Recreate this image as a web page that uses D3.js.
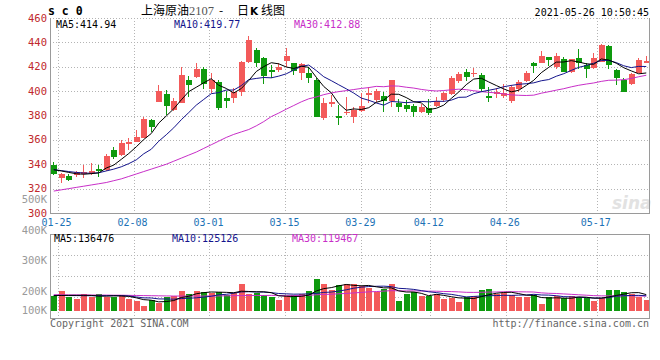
<!DOCTYPE html>
<html><head><meta charset="utf-8">
<script src="https://cdn.jsdelivr.net/npm/d3@7/dist/d3.min.js"></script>
<style>body{margin:0;background:#fff}svg{display:block}</style>
</head><body><svg id="c" width="660" height="360"></svg>
<script>
const dates = ["01-22","01-25","01-26","01-27","01-28","01-29","02-01","02-02","02-03","02-04","02-05",
"02-08","02-09","02-10","02-18","02-19","02-22","02-23","02-24","02-25","02-26",
"03-01","03-02","03-03","03-04","03-05","03-08","03-09","03-10","03-11","03-12",
"03-15","03-16","03-17","03-18","03-19","03-22","03-23","03-24","03-25","03-26",
"03-29","03-30","03-31","04-01","04-02","04-06","04-07","04-08","04-09",
"04-12","04-13","04-14","04-15","04-16","04-19","04-20","04-21","04-22","04-23",
"04-26","04-27","04-28","04-29","04-30","05-06","05-07","05-10","05-11","05-12","05-13","05-14",
"05-17","05-18","05-19","05-20","05-21","05-24","05-25","05-26"];
const open = [339.4,328.5,330.4,331.2,332.0,332.6,336.0,335.3,351.7,347.6,356.6,358.0,361.8,376.3,391.3,397.6,384.5,390.5,409.1,411.8,418.1,401.7,407.7,394.1,394.6,399.5,424.1,433.7,426.9,417.3,417.3,424.9,422.8,415.1,414.6,409.1,377.7,389.4,379.6,381.8,379.0,383.9,396.8,392.7,396.0,391.9,390.5,388.6,387.8,383.1,385.9,387.8,392.7,397.6,408.5,415.9,414.0,413.2,396.0,397.6,396.0,392.1,401.5,408.5,422.8,423.3,428.2,419.5,426.1,415.9,426.9,421.4,418.7,424.1,437.0,417.3,409.1,405.8,414.6,423.3];
const high = [342.0,333.0,332.0,334.7,339.4,341.0,339.4,348.4,353.9,359.9,361.3,368.0,378.5,376.9,405.0,401.0,394.0,419.5,412.4,422.8,419.5,414.6,409.1,400.1,402.8,424.9,445.2,435.1,427.7,421.4,422.8,435.1,422.8,423.3,419.5,411.0,394.1,396.8,388.6,395.4,386.7,398.2,403.1,401.5,399.5,409.1,393.3,392.7,389.4,389.4,393.3,395.4,399.5,412.4,415.9,417.9,418.7,415.1,403.1,402.3,405.8,405.0,409.1,416.7,424.1,433.1,428.2,431.0,428.2,426.1,434.3,422.8,431.0,438.6,437.5,417.9,410.5,414.6,426.9,428.8];
const low = [331.2,324.4,326.3,329.8,328.5,331.0,329.3,334.7,344.0,346.8,351.7,358.0,361.3,366.7,391.0,380.4,383.9,390.0,395.4,410.5,401.5,398.2,384.5,385.9,390.0,396.2,422.8,420.0,405.6,410.5,416.0,419.5,413.2,409.1,406.4,378.5,376.3,387.2,372.2,380.4,374.0,383.1,390.0,391.3,383.1,387.2,383.1,383.1,379.0,382.3,380.4,386.7,391.3,396.8,406.9,408.5,411.3,399.5,391.3,394.1,394.1,390.5,399.5,407.7,415.1,423.3,420.6,417.9,415.9,415.1,417.9,410.5,417.9,424.1,417.9,405.0,399.5,405.0,414.6,422.8];
const close = [332.0,332.0,327.0,333.9,334.0,334.5,335.0,347.0,346.2,357.2,358.5,362.6,376.9,370.8,400.0,387.8,392.1,413.2,405.0,418.1,405.8,409.1,385.9,392.1,399.5,424.1,441.9,422.8,412.4,415.4,419.5,428.8,416.7,422.2,410.5,379.0,390.5,391.3,377.7,383.1,384.5,387.8,398.7,400.1,391.9,409.1,387.2,385.3,383.1,387.2,381.8,392.1,398.2,410.5,414.0,411.8,415.1,401.5,394.9,399.5,398.2,403.1,407.7,415.1,420.6,428.8,425.5,428.8,415.9,426.1,423.3,417.9,426.9,437.8,421.4,410.5,399.5,414.0,425.5,424.9];
const ma5 = [335.5,334.5,333.3,332.2,331.8,332.3,332.9,336.9,339.3,344.0,348.8,354.3,360.3,365.2,373.8,379.6,385.5,392.8,399.6,403.2,406.8,410.2,404.8,402.2,398.5,402.1,408.7,416.1,420.1,423.3,422.4,419.8,418.6,420.5,419.5,411.4,403.8,398.7,389.8,384.3,385.4,384.9,386.4,390.8,392.6,397.5,397.4,394.7,391.3,390.4,384.9,385.9,388.5,394.0,399.3,405.3,409.9,410.6,407.5,404.6,401.8,399.4,400.7,404.7,408.9,415.1,419.5,423.8,423.9,425.0,423.9,422.4,422.0,426.4,425.5,422.9,419.2,416.6,414.2,414.9];
const ma10 = [335.5,334.8,334.0,333.3,332.8,332.6,333.0,334.5,336.0,337.9,340.5,343.6,348.6,352.3,358.9,364.2,369.9,376.5,382.4,388.5,393.2,397.9,398.8,400.9,400.9,404.5,409.5,410.4,411.2,410.9,412.3,414.2,417.3,420.3,421.4,416.9,411.8,408.6,405.2,401.9,398.4,394.3,392.5,390.3,388.5,391.5,391.1,390.5,391.1,391.5,391.2,391.7,391.6,392.6,394.9,395.1,397.9,399.5,400.7,401.9,403.6,404.7,405.6,406.1,406.8,408.5,409.5,412.2,414.3,417.0,419.5,421.0,422.9,425.2,425.2,423.4,420.8,419.3,420.3,420.2];
const ma30 = [318,319,320,321,322,323,324,325,326.5,328,330,332,334,336,338,340,342.5,345,347.5,350,353,356,359,362,364.5,366.5,368.5,371.5,375,379.1,382.0,385.2,388.2,391.2,393.7,395.2,397.1,398.5,399.6,400.4,401.3,402.2,402.9,403.9,403.6,404.3,404.1,403.2,402.5,401.4,400.6,400.1,400.5,401.1,401.6,401.2,400.3,399.6,399.0,398.5,397.7,396.9,396.6,396.4,396.7,398.3,399.5,400.8,402.0,403.5,404.8,405.8,406.7,408.0,408.9,409.0,409.4,410.4,411.8,413.0];
const volume = [127500,172000,122000,102000,144500,121000,144500,121000,116000,136000,102000,85000,42500,93500,65000,116000,127500,172000,144500,172000,164000,156000,164000,136000,156000,229500,144500,150000,136000,121000,93500,127500,136000,144500,172000,269000,229500,178500,221000,229500,229500,212500,193000,164000,184000,229500,85000,144500,164000,127500,127500,144500,99000,108000,79000,116000,127500,178500,187000,144500,150000,136000,121000,121000,136000,59500,116000,127500,108000,127500,116000,108000,85000,110000,178500,178500,164000,144500,116000,93500];
const vma5 = [130,132,133,133,133.6,132.3,126.8,126.6,129.4,127.7,123.9,112,96.3,91.8,77.6,80.4,88.9,114.8,125,146.4,156,161.7,160.1,158.4,155.2,168.3,166,163.2,163.2,156.2,129,125.6,122.8,124.5,134.7,169.8,190.2,198.7,214,225.5,217.6,214.2,217.1,205.7,196.6,196.6,171.1,161.4,161.4,150.1,129.7,141.6,132.5,121.3,111.6,109.3,105.9,121.8,137.6,150.7,157.5,159.2,147.7,134.5,132.8,114.7,110.7,112,109.4,107.7,119,117.4,108.9,109.3,119.5,132,143.2,155.1,156.3,139.3].map(v => v * 1000);
const vma10 = [132,132,131,131,130,130,130,130,130,130.7,128.1,119.4,111.5,110.6,102.7,102.2,100.5,105.6,108.4,112,118.2,125.3,137.5,141.7,150.8,162.2,163.9,161.7,160.8,155.7,148.7,145.8,143,143.9,145.5,149.4,157.9,160.8,169.3,180.1,193.7,202.2,207.9,209.9,211.1,207.1,192.7,189.3,183.6,173.4,163.2,156.4,147,141.4,130.9,119.5,123.8,127.2,129.5,131.2,133.4,132.6,134.8,136.1,141.8,136.1,135,129.9,122,120.3,116.9,114.1,110.5,109.4,113.6,125.5,130.3,132,132.8,129.4].map(v => v * 1000);
const vma30 = [138,138,137,137,136,136,135,135,134,134,133,132,131,130,129,128,127,127,127,127,127,128,128,129,130,131,132,132,132,132.8,131.7,130.2,130.6,132.1,133,137.9,140.7,142.7,146.2,149.3,153.5,157.8,162.8,165.1,169.1,172.9,171.5,170.6,171.2,169.7,168.5,168.1,166,165,162.5,158.7,158.1,159,160.8,161.5,163.4,163.7,163.2,162.4,161.2,154.2,150.5,148.8,145,141.6,137.8,134.3,130.7,128.9,128.7,127,129.7,129.7,128.1,126.9].map(v => v * 1000);
const priceTicks = [300,320,340,360,380,400,420,440,460];
const volTicks = [100000,200000,300000,400000,500000];
const dateTicks = ["01-25","02-08","03-01","03-15","03-29","04-12","04-26","05-17"];
const legendTop = [["MA5:414.94","#000"],["MA10:419.77","#14148c"],["MA30:412.88","#c82ec8"]];
const legendVol = [["MA5:136476","#000"],["MA10:125126","#14148c"],["MA30:119467","#c82ec8"]];

const svg = d3.select("#c");
const L = 50, R = 649, T = 18, B = 213, VT = 234, VB = 318;
const RED = "#f35a5a", GREEN = "#0e9a0e", GRID = "#b4b4b4", AX = "#9a9a9a";
const MONO = "'DejaVu Sans Mono', monospace";
const xb = d3.scaleBand().domain(dates).range([50, 650]);
const xp = d3.scalePoint().domain(dates).range([50, 650]);
const y = d3.scaleLinear().domain([300, 460]).range([B, T]);
const yv = d3.scaleLinear().domain([0, 650000]).range([311, 234.5]);
const yvLab = d3.scaleLinear().domain([200000, 400000]).range([291, 230]);
const vGrid = d3.scaleLinear().domain([0, 4]).range([VB, VT]);
const cx = i => xb(dates[i]) + xb.bandwidth() / 2;
const bw = 6;

const defs = svg.append("defs");
defs.append("clipPath").attr("id","cp").append("rect").attr("x",L).attr("y",T).attr("width",R-L).attr("height",B-T);
defs.append("clipPath").attr("id","cv").append("rect").attr("x",L).attr("y",VT).attr("width",R-L).attr("height",VB-VT);

// watermark
svg.append("text").attr("x",612).attr("y",209).attr("font-family","'DejaVu Sans', sans-serif").attr("font-style","italic")
  .attr("font-weight","bold").attr("font-size",17).attr("fill","#e2e2e2").text("sina");

// grid upper
const g = svg.append("g").attr("shape-rendering","crispEdges");
g.selectAll(".hg").data(priceTicks.filter(v => v > 300)).join("line")
  .attr("x1",L).attr("x2",R).attr("y1",d=>Math.round(y(d))+0.5).attr("y2",d=>Math.round(y(d))+0.5)
  .attr("stroke",GRID).attr("stroke-dasharray","1,2");
g.selectAll(".vg").data(dateTicks).join("line")
  .attr("x1",d=>Math.round(xp(d))+0.5).attr("x2",d=>Math.round(xp(d))+0.5).attr("y1",T).attr("y2",B)
  .attr("stroke",GRID).attr("stroke-dasharray","1,2");
// grid lower
g.selectAll(".vhg").data([1,2,3]).join("line")
  .attr("x1",L).attr("x2",R).attr("y1",d=>Math.round(vGrid(d))+0.5).attr("y2",d=>Math.round(vGrid(d))+0.5)
  .attr("stroke",GRID).attr("stroke-dasharray","1,2");
g.selectAll(".vvg").data(dateTicks).join("line")
  .attr("x1",d=>Math.round(xp(d))+0.5).attr("x2",d=>Math.round(xp(d))+0.5).attr("y1",VT).attr("y2",VB)
  .attr("stroke",GRID).attr("stroke-dasharray","1,2");

// axes frame
g.append("path").attr("d",`M${L+0.5},${T}V${B+0.5}H${R+0.5}V${T}`).attr("fill","none").attr("stroke",AX);
g.append("rect").attr("x",L+0.5).attr("y",VT+0.5).attr("width",R-L).attr("height",VB-VT).attr("fill","none").attr("stroke",AX);

// candles
const cg = svg.append("g").attr("clip-path","url(#cp)").attr("shape-rendering","crispEdges");
const idx = d3.range(dates.length);
const col = i => close[i] >= open[i] ? RED : GREEN;
cg.selectAll(".wick").data(idx).join("line")
  .attr("x1",i=>Math.floor(cx(i))+0.5).attr("x2",i=>Math.floor(cx(i))+0.5)
  .attr("y1",i=>y(high[i])).attr("y2",i=>y(low[i])).attr("stroke",col);
cg.selectAll(".body").data(idx).join("rect")
  .attr("x",i=>Math.floor(cx(i))-2.5).attr("width",bw)
  .attr("y",i=>y(Math.max(open[i],close[i])))
  .attr("height",i=>Math.max(1.5, Math.abs(y(open[i])-y(close[i]))))
  .attr("fill",col);

// MA lines upper
const line = (arr, ys) => d3.line().x((d,i)=>cx(i)).y(d=>ys(d))(arr);
[[ma30,"#c82ec8"],[ma10,"#14148c"],[ma5,"#000"]].forEach(([a,c]) => {
  svg.append("path").attr("clip-path","url(#cp)").attr("d",line(a,y)).attr("fill","none").attr("stroke",c).attr("stroke-width",1);
});

// volume bars
const vg = svg.append("g").attr("clip-path","url(#cv)").attr("shape-rendering","crispEdges");
vg.selectAll(".vb").data(idx).join("rect")
  .attr("x",i=>Math.floor(cx(i))-2.5).attr("width",bw)
  .attr("y",i=>yv(volume[i])).attr("height",i=>yv(0)-yv(volume[i]))
  .attr("fill",col);
[[vma30,"#c82ec8"],[vma10,"#14148c"],[vma5,"#000"]].forEach(([a,c]) => {
  svg.append("path").attr("clip-path","url(#cv)").attr("d",line(a,yv)).attr("fill","none").attr("stroke",c).attr("stroke-width",1);
});

// y labels
svg.selectAll(".yl").data(priceTicks).join("text")
  .attr("x",47).attr("y",d=>y(d)+3.5).attr("text-anchor","end")
  .attr("font-family",MONO).attr("font-size",10.5).attr("fill","#c0282b").text(d=>d);
svg.selectAll(".vl").data(volTicks).join("text")
  .attr("x",47).attr("y",d=>Math.min(yvLab(d),310)+3.5).attr("text-anchor","end")
  .attr("font-family",MONO).attr("font-size",10.5).attr("fill","#9a9a9a").text(d=>d3.format("d")(d/1000)+"K");
// x labels
svg.selectAll(".xl").data(dateTicks).join("text")
  .attr("x",d=>xp(d)-1).attr("y",226).attr("text-anchor","middle")
  .attr("font-family",MONO).attr("font-size",10).attr("fill","#1c72b6").text(d=>d);

// legends
const legX = [56,174,294];
svg.selectAll(".lt").data(legendTop).join("text")
  .attr("x",(d,i)=>legX[i]).attr("y",27.5).attr("font-family",MONO).attr("font-size",10).attr("fill",d=>d[1]).text(d=>d[0]);
svg.selectAll(".lv").data(legendVol).join("text")
  .attr("x",(d,i)=>legX[i]-2).attr("y",242).attr("font-family",MONO).attr("font-size",10).attr("fill",d=>d[1]).text(d=>d[0]);

// header
svg.append("text").attr("x",48).attr("y",15).attr("font-family",MONO).attr("font-weight","bold").attr("font-size",11.5)
  .attr("fill","#000").text("s c 0");
const t = svg.append("text").attr("y",15).attr("font-family","'Noto Sans CJK SC', sans-serif").attr("font-size",12).attr("fill","#000");
t.append("tspan").attr("x",141).text("上海原油");
t.append("tspan").attr("x",189).attr("font-family","'Liberation Serif', serif").attr("font-size",12.5).attr("fill","#555").text("2107");
t.append("tspan").attr("x",219).text("-");
t.append("tspan").attr("x",237).text("日");
t.append("tspan").attr("x",250).attr("font-weight","bold").attr("font-family","'DejaVu Sans', sans-serif").attr("font-size",10.5).text("K");
t.append("tspan").attr("x",261).text("线图");
svg.append("text").attr("x",649).attr("y",15.5).attr("text-anchor","end").attr("font-family",MONO).attr("font-size",10)
  .attr("fill","#000").text("2021-05-26 10:50:45");

// footer
svg.append("text").attr("x",50).attr("y",327).attr("font-family",MONO).attr("font-size",10).attr("fill","#666").text("Copyright 2021 SINA.COM");
svg.append("text").attr("x",649).attr("y",327).attr("text-anchor","end").attr("font-family",MONO).attr("font-size",10).attr("fill","#666").text("http://finance.sina.com.cn");
</script></body></html>
